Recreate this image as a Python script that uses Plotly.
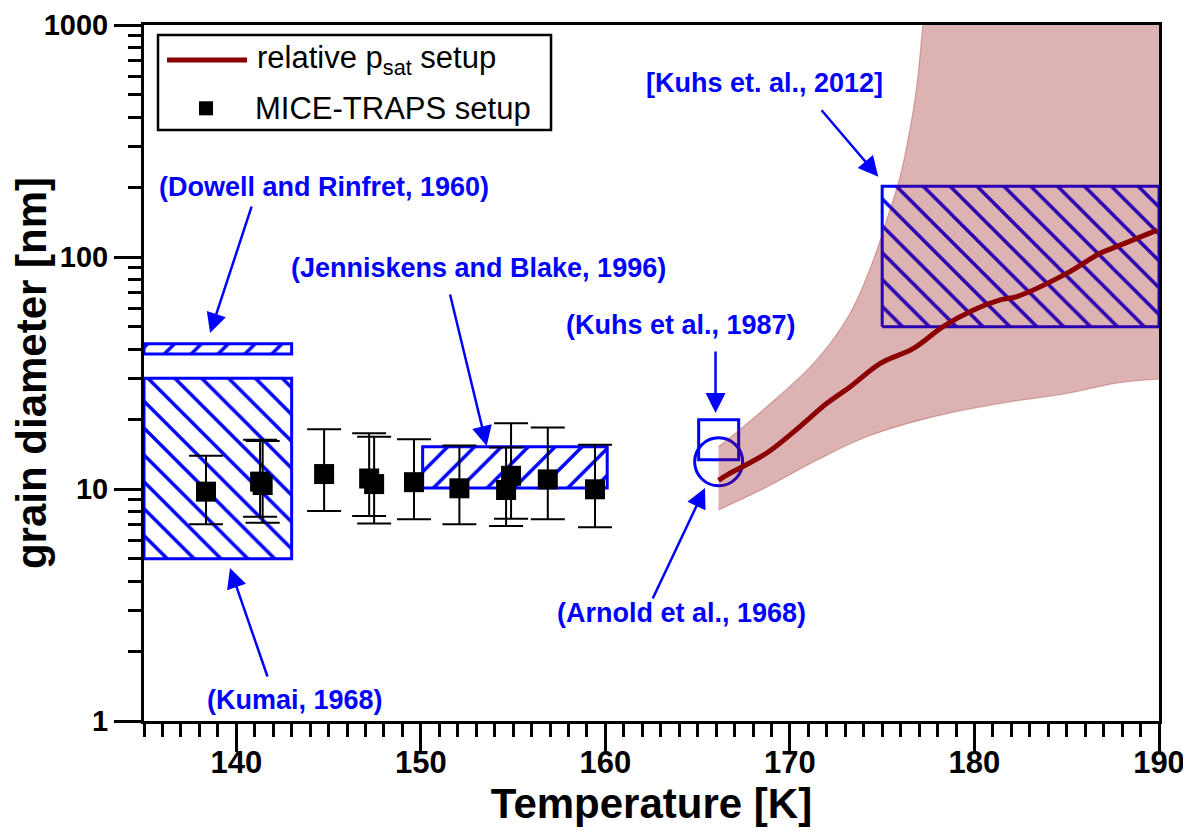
import plotly.graph_objects as go

# ---------------- data ----------------
# MICE-TRAPS setup: temperature [K], grain diameter [nm], error-bar upper / lower ends
mice_T = [138.36, 141.29, 141.43, 144.76, 147.2, 147.47, 149.63, 152.09, 154.62, 154.89, 156.88, 159.44]
mice_D = [9.74, 10.76, 10.4, 11.6, 11.1, 10.5, 10.7, 10.07, 9.9, 11.4, 11.0, 9.97]
mice_hi = [13.9, 16.3, 16.1, 18.1, 17.4, 16.8, 16.4, 15.4, 15.1, 19.2, 18.4, 15.5]
mice_lo = [7.05, 7.6, 7.16, 8.04, 7.65, 7.1, 7.4, 7.05, 6.93, 7.45, 7.4, 6.84]

# relative p_sat setup: central curve
psat_T = [166.13, 166.6, 168.75, 170.55, 172.0, 173.27, 174.9, 176.7, 178.3, 179.95, 181.4, 182.3, 185.0, 186.8, 187.7, 189.9]
psat_D = [10.9, 11.5, 14.3, 18.6, 23.4, 27.6, 34.8, 40.4, 50.1, 59.1, 65.3, 67.5, 85.0, 103.7, 110.8, 130.6]

# uncertainty band of the relative p_sat setup
band_up_T = [166.13, 168.74, 171.45, 173.26, 174.52, 175.24, 175.97, 176.5, 176.87, 177.2, 177.6, 178.2, 190.0]
band_up_D = [15.2, 22.6, 36.0, 57.2, 97.0, 144.0, 222.0, 353.0, 542.0, 984.0, 2000.0, 3000.0, 3000.0]
band_lo_T = [166.13, 168.75, 171.45, 174.16, 177.77, 181.4, 185.0, 187.7, 190.0]
band_lo_D = [8.12, 10.2, 13.3, 16.8, 20.5, 23.4, 25.8, 28.6, 29.8]

# literature ranges
lit_names = ["Dowell and Rinfret, 1960", "Kumai, 1968", "Jenniskens and Blake, 1996", "Kuhs et. al., 2012"]
lit_Tmin = [135.0, 135.0, 150.1, 175.0]
lit_Tmax = [143.0, 143.0, 160.1, 190.0]
lit_Dmin = [38.2, 5.0, 10.1, 50.0]
lit_Dmax = [42.3, 30.0, 15.2, 202.0]
lit_hatch = ["/", "\\", "/", "\\"]

# single literature points
kuhs87_T, kuhs87_D = [166.14], [16.3]
arnold_T, arnold_D = [166.14], [13.1]

BLUE = "#0000ff"
DARKRED = "#8b0000"
FONT = "Liberation Sans, Arial, sans-serif"

fig = go.Figure()

# hatched literature boxes
for name, t0, t1, d0, d1, h in zip(lit_names, lit_Tmin, lit_Tmax, lit_Dmin, lit_Dmax, lit_hatch):
    fig.add_trace(go.Scatter(
        x=[t0, t1, t1, t0, t0], y=[d0, d0, d1, d1, d0],
        mode="lines", fill="toself",
        fillcolor="white",
        fillpattern=dict(shape=h, fgcolor=BLUE, bgcolor="white", fgopacity=1,
                         size=19, solidity=0.18),
        line=dict(color=BLUE, width=3), name=name, hoverinfo="skip", showlegend=False))

# Kuhs et al. 1987 (open square) and Arnold et al. 1968 (open circle)
fig.add_trace(go.Scatter(x=kuhs87_T, y=kuhs87_D, mode="markers",
                         marker=dict(symbol="square-open", size=40, color=BLUE, line=dict(width=3, color=BLUE)),
                         showlegend=False))
fig.add_trace(go.Scatter(x=arnold_T, y=arnold_D, mode="markers",
                         marker=dict(symbol="circle-open", size=48, color=BLUE, line=dict(width=3, color=BLUE)),
                         showlegend=False))

# uncertainty band (semi-transparent dark red, drawn over the boxes)
fig.add_trace(go.Scatter(x=band_lo_T, y=band_lo_D, mode="lines",
                         line=dict(color="rgba(160,40,40,0.35)", width=1.2, shape="spline"),
                         hoverinfo="skip", showlegend=False))
fig.add_trace(go.Scatter(x=band_up_T, y=band_up_D, mode="lines", fill="tonexty",
                         fillcolor="rgba(139,0,0,0.3)",
                         line=dict(color="rgba(160,40,40,0.35)", width=1.2, shape="spline"),
                         hoverinfo="skip", showlegend=False))

# relative p_sat curve
fig.add_trace(go.Scatter(x=psat_T, y=psat_D, mode="lines", line=dict(color=DARKRED, width=5, shape="spline"),
                         name="relative p<sub>sat</sub> setup", showlegend=False))

# MICE-TRAPS points with error bars
err_plus = [h - d for h, d in zip(mice_hi, mice_D)]
err_minus = [d - l for d, l in zip(mice_D, mice_lo)]
fig.add_trace(go.Scatter(x=mice_T, y=mice_D, mode="markers",
                         marker=dict(symbol="square", size=20, color="black"),
                         error_y=dict(type="data", array=err_plus, arrayminus=err_minus, symmetric=False,
                                      color="black", thickness=2, width=17),
                         name="MICE-TRAPS setup", showlegend=False))

# ---------------- annotations ----------------
ann_font = dict(family=FONT, size=27, color=BLUE, weight="bold")
texts = [
    ("(Dowell and Rinfret, 1960)", 144.75, 2.302),
    ("(Jenniskens and Blake, 1996)", 153.1, 1.953),
    ("(Kuhs et al., 1987)", 164.1, 1.707),
    ("(Arnold et al., 1968)", 164.1, 0.4655),
    ("(Kumai, 1968)", 143.18, 0.0905),
    ("[Kuhs et. al., 2012]", 168.6, 2.749),
]
annotations = []
for t, x, y in texts:
    annotations.append(dict(text=t, x=x, y=y, xref="x", yref="y", showarrow=False,
                            font=ann_font, xanchor="center", yanchor="middle"))

# arrows: tip (data), tail offset (px)
arrows = [
    (138.58, 1.672, 42, -128),
    (153.57, 1.185, -37, -153),
    (165.97, 1.3276, 0, -63),
    (165.4, 1.0043, -53, 112),
    (139.66, 0.6595, 38, 110),
    (174.79, 2.346, -58, -68),
]
for x, y, ax, ay in arrows:
    annotations.append(dict(text="", x=x, y=y, xref="x", yref="y", ax=ax, ay=ay,
                            axref="pixel", ayref="pixel", showarrow=True,
                            arrowhead=2, arrowsize=1.6, arrowwidth=2.5, arrowcolor=BLUE, standoff=0))

title_font = dict(family=FONT, size=42, color="black", weight="bold")

# custom legend
leg_font = dict(family=FONT, size=31, color="black")
annotations.append(dict(text="relative p<sub>sat</sub> setup", x=0.1094, y=0.9497, xref="paper", yref="paper",
                        xanchor="left", yanchor="middle", showarrow=False, font=leg_font))
annotations.append(dict(text="MICE-TRAPS setup", x=0.1074, y=0.8803, xref="paper", yref="paper",
                        xanchor="left", yanchor="middle", showarrow=False, font=leg_font))
shapes = [
    dict(type="rect", xref="paper", yref="paper", x0=0.0138, x1=0.401, y0=0.8491, y1=0.9856,
         line=dict(color="black", width=2.5), fillcolor="white", layer="above"),
    dict(type="line", xref="paper", yref="paper", x0=0.0227, x1=0.1015, y0=0.9497, y1=0.9497,
         line=dict(color=DARKRED, width=5), layer="above"),
    dict(type="rect", xref="paper", yref="paper", x0=0.0611 - 0.0069, x1=0.0611 + 0.0069,
         y0=0.8803 - 0.0101, y1=0.8803 + 0.0101, line=dict(color="black", width=0), fillcolor="black",
         layer="above"),
]

# the page body has an 8 px margin: the figure is offset so the plot area lands where the reference has it
fig.update_layout(
    width=1183, height=824, autosize=False,
    margin=dict(l=136, r=32, t=17, b=111, autoexpand=False),
    paper_bgcolor="white", plot_bgcolor="white",
    font=dict(family=FONT, color="black"),
    showlegend=False,
    annotations=annotations, shapes=shapes,
)
fig.update_xaxes(
    range=[135, 190], tick0=140, dtick=10, showgrid=False, zeroline=False, automargin=False,
    showline=True, linewidth=3, linecolor="black", mirror=True,
    ticks="outside", ticklen=28, tickwidth=3, tickcolor="black", ticklabelstandoff=-16,
    tickfont=dict(family=FONT, size=31, color="black", weight="bold"),
    minor=dict(dtick=1, ticks="outside", ticklen=13, tickwidth=3, tickcolor="black", showgrid=False),
    title=dict(text="Temperature [K]", font=title_font, standoff=0),
)
fig.update_yaxes(
    type="log", range=[0, 3], dtick=1, exponentformat="none", showgrid=False, zeroline=False, automargin=False,
    showline=True, linewidth=3, linecolor="black", mirror=True,
    ticks="outside", ticklen=27, tickwidth=3, tickcolor="black",
    tickfont=dict(family=FONT, size=29, color="black", weight="bold"),
    minor=dict(dtick="D1", ticks="outside", ticklen=13, tickwidth=3, tickcolor="black", showgrid=False),
    title=dict(text="grain diameter [nm]", font=title_font, standoff=0),
)

fig.write_html("out.html")
